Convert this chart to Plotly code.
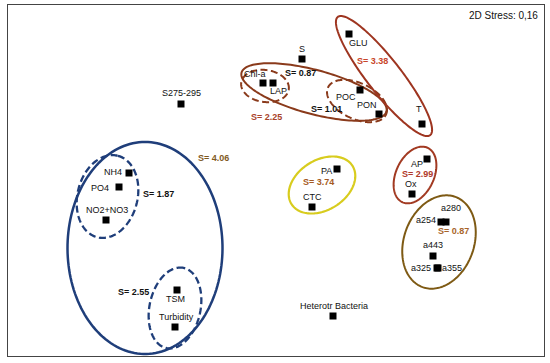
import numpy as np
import plotly.graph_objects as go

# MDS coordinates of variables
names = ["GLU", "S", "Chl-a", "LAP", "POC", "PON", "T", "S275-295",
         "NH4", "PO4", "NO2+NO3", "TSM", "Turbidity", "PA", "CTC",
         "AP", "Ox", "a280", "a254", "a443", "a325", "a355", "Heterotr Bacteria"]
x_vals = [0.74, 0.27, -0.12, -0.02, 0.85, 1.04, 1.47, -0.94,
          -1.46, -1.56, -1.69, -0.98, -1.00, 0.62, 0.37,
          1.52, 1.37, 1.71, 1.66, 1.58, 1.62, 1.63, 0.58]
y_vals = [1.46, 1.21, 0.97, 0.97, 0.90, 0.66, 0.56, 0.76,
          0.07, -0.07, -0.40, -1.10, -1.47, 0.11, -0.27,
          0.21, -0.14, -0.42, -0.42, -0.76, -0.88, -0.88, -1.36]
# label pixel offsets (dx, dy)
label_dx = [9, 0, -8, 5, -14, -12, -3, 0,
            -16, -19, 1, -2, 1, -11, 0,
            -10, -1, 5, -15, 0, -16, 14, 1]
label_dy = [-9, 10, 9, -8, -7, 9, 15, 11,
            1, -1, 10, -9, 10, -2, 10,
            -5, 10, 14, 2, 11, 0, 0, 10]

# group ellipses: center x, center y, semi-major, semi-minor, angle (deg), colour, dash, width
ell_cx = [-1.30, -1.675, -1.00, 0.39, -0.10, 0.82, 1.09, 0.47, 1.40, 1.64]
ell_cy = [-0.68, -0.165, -1.28, 0.88, 0.94, 0.79, 1.04, -0.05, 0.05, -0.62]
ell_a = [1.06, 0.42, 0.41, 0.75, 0.24, 0.32, 0.75, 0.36, 0.30, 0.48]
ell_b = [0.775, 0.30, 0.255, 0.22, 0.16, 0.18, 0.17, 0.25, 0.19, 0.35]
ell_ang = [90, 76, 78, -15, -8, -25, -52, 32, 65, 70]
ell_col = ["#1F3E7A", "#1F3E7A", "#1F3E7A", "#8A3A1B", "#8A3A1B", "#8A3A1B",
           "#9E3520", "#D8CC1E", "#A23A22", "#7E5A14"]
ell_dash = ["solid", "7px,3.5px", "7px,3.5px", "solid", "7px,3.5px", "7px,3.5px",
            "solid", "solid", "solid", "solid"]
ell_w = [2.5, 2.3, 2.3, 2, 2, 2, 2, 2.2, 2, 2]

# similarity labels
s_text = ["S= 0.87", "S= 3.38", "S= 2.25", "S= 1.01", "S= 4.06",
          "S= 1.87", "S= 2.55", "S= 3.74", "S= 2.99", "S= 0.87"]
s_x = [0.25, 0.97, -0.09, 0.51, -0.62, -1.17, -1.42, 0.43, 1.42, 1.78]
s_y = [1.07, 1.19, 0.63, 0.71, 0.22, -0.14, -1.12, -0.02, 0.06, -0.51]
s_col = ["#111111", "#C8452A", "#A8432A", "#111111", "#7F5A1E",
         "#111111", "#111111", "#A55A22", "#B0392A", "#A8652A"]

fig = go.Figure()

shapes = []
t = np.linspace(0, 2 * np.pi, 160)
for cx, cy, a, b, ang, col, dash, w in zip(ell_cx, ell_cy, ell_a, ell_b, ell_ang, ell_col, ell_dash, ell_w):
    th = np.deg2rad(ang)
    px = cx + a * np.cos(t) * np.cos(th) - b * np.sin(t) * np.sin(th)
    py = cy + a * np.cos(t) * np.sin(th) + b * np.sin(t) * np.cos(th)
    path = "M " + " L ".join(f"{u:.4f},{v:.4f}" for u, v in zip(px, py)) + " Z"
    shapes.append(dict(type="path", path=path, xref="x", yref="y",
                       line=dict(color=col, width=w, dash=dash), layer="below"))

fig.add_trace(go.Scatter(x=x_vals, y=y_vals, mode="markers",
                         marker=dict(symbol="square", size=7, color="black"),
                         hoverinfo="text", text=names, showlegend=False))

annotations = []
for n, xv, yv, dx, dy in zip(names, x_vals, y_vals, label_dx, label_dy):
    annotations.append(dict(x=xv, y=yv, text=n, showarrow=False, xshift=dx, yshift=dy,
                            font=dict(family="Liberation Sans, Arial", size=9, color="#111111")))
for st, sx, sy, sc in zip(s_text, s_x, s_y, s_col):
    annotations.append(dict(x=sx, y=sy, text=f"<b>{st}</b>", showarrow=False,
                            font=dict(family="Liberation Sans, Arial", size=9, color=sc)))
annotations.append(dict(xref="paper", yref="paper", x=1, y=1, xanchor="right", yanchor="top",
                        xshift=-4, yshift=-3, text="2D Stress: 0,16", showarrow=False,
                        font=dict(family="Liberation Sans, Arial", size=10, color="#111111")))

fig.update_layout(
    width=550, height=363,
    margin=dict(l=8, r=6, t=5, b=7),
    paper_bgcolor="white", plot_bgcolor="white",
    shapes=shapes, annotations=annotations,
    xaxis=dict(range=[-2.67, 2.69], showgrid=False, zeroline=False, showticklabels=False,
               ticks="", showline=True, mirror=True, linecolor="#444444", linewidth=1),
    yaxis=dict(range=[-1.76, 1.75], showgrid=False, zeroline=False, showticklabels=False,
               ticks="", showline=True, mirror=True, linecolor="#444444", linewidth=1),
)

fig.write_html("out.html", config={"displayModeBar": False},
               post_script="document.body.style.margin='0';document.body.style.overflow='hidden';")
